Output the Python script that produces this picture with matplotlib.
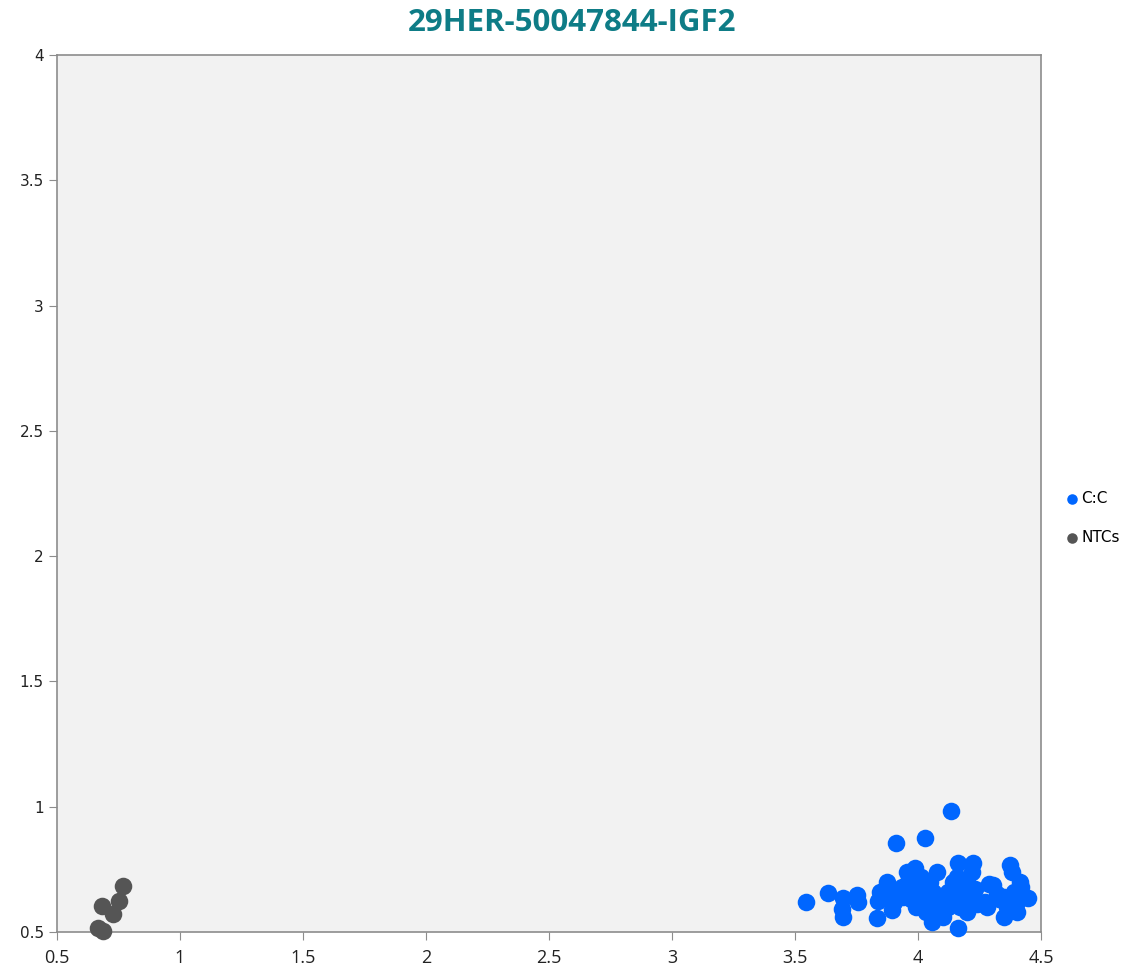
import matplotlib
matplotlib.use("Agg")
import matplotlib.pyplot as plt

title = "29HER-50047844-IGF2"

cc_x = [3.545, 3.633, 3.696, 3.690, 3.696, 3.753, 3.757, 3.832, 3.835, 3.846,
        3.860, 3.873, 3.880, 3.893, 3.900, 3.911, 3.920, 3.935, 3.954, 3.960,
        3.970, 3.988, 3.990, 4.000, 4.010, 4.020, 4.026, 4.030, 4.040, 4.050,
        4.056, 4.060, 4.076, 4.080, 4.090, 4.100, 4.110, 4.120, 4.135, 4.140,
        4.150, 4.164, 4.160, 4.164, 4.170, 4.180, 4.190, 4.200, 4.210, 4.225,
        4.220, 4.230, 4.240, 4.252, 4.270, 4.290, 4.306, 4.320, 4.330, 4.347,
        4.360, 4.374, 4.380, 4.390, 4.400, 4.415, 4.420, 4.448, 4.430,
        4.050, 4.120, 4.180, 3.980, 4.280, 4.350, 4.400, 4.200, 3.940, 4.000]
cc_y = [0.618, 0.657, 0.634, 0.590, 0.561, 0.648, 0.621, 0.554, 0.625, 0.661,
        0.640, 0.700, 0.670, 0.588, 0.620, 0.854, 0.650, 0.680, 0.741, 0.700,
        0.630, 0.754, 0.600, 0.680, 0.720, 0.650, 0.876, 0.580, 0.610, 0.700,
        0.541, 0.660, 0.741, 0.620, 0.590, 0.560, 0.640, 0.600, 0.984, 0.700,
        0.650, 0.774, 0.720, 0.515, 0.600, 0.680, 0.640, 0.700, 0.620, 0.777,
        0.740, 0.670, 0.610, 0.614, 0.620, 0.690, 0.687, 0.650, 0.630, 0.561,
        0.600, 0.767, 0.740, 0.660, 0.620, 0.700, 0.680, 0.634, 0.640,
        0.630, 0.660, 0.620, 0.660, 0.600, 0.640, 0.580, 0.580, 0.640, 0.620]

ntc_x = [0.667, 0.687, 0.683, 0.728, 0.752, 0.768]
ntc_y = [0.516, 0.504, 0.604, 0.572, 0.624, 0.684]

xticks = [0.5, 1, 1.5, 2, 2.5, 3, 3.5, 4, 4.5]
xtick_labels = ["0.5", "1", "1.5", "2", "2.5", "3", "3.5", "4", "4.5"]
yticks = [0.5, 1, 1.5, 2, 2.5, 3, 3.5, 4]
ytick_labels = ["0.5", "1", "1.5", "2", "2.5", "3", "3.5", "4"]

fig = plt.figure(figsize=(11.44, 9.68), dpi=100)
ax = fig.add_axes([0.0498, 0.0372, 0.8603, 0.906])
ax.set_facecolor("#F2F2F2")

ax.scatter(cc_x, cc_y, s=160, color="#0066FF", linewidths=0, label="C:C", clip_on=False, zorder=3)
ax.scatter(ntc_x, ntc_y, s=160, color="#555555", linewidths=0, label="NTCs", clip_on=False, zorder=3)

ax.set_xlim(0.5, 4.5)
ax.set_ylim(0.5, 4)
ax.set_xticks(xticks)
ax.set_xticklabels(xtick_labels)
ax.set_yticks(yticks)
ax.set_yticklabels(ytick_labels)
for sp in ax.spines.values():
    sp.set_color("#8C8C8C")
    sp.set_linewidth(1.2)
ax.tick_params(axis="both", direction="out", length=6, color="#8C8C8C", labelsize=11, labelcolor="#222222")
ax.tick_params(axis="x", pad=6)
for lab in ax.get_xticklabels():
    lab.set_family(["Open Sans", "DejaVu Sans"])
    lab.set_fontsize(13)

fig.suptitle(title, x=0.5, y=0.992, fontsize=22.5, fontweight="bold", color="#0E7C86",
             family=["Open Sans", "DejaVu Sans"], va="top")

leg = ax.legend(loc="center left", bbox_to_anchor=(1.01, 0.472), frameon=False,
                fontsize=11, markerscale=0.6, handletextpad=0.1, labelspacing=1.6,
                handlelength=1.0)

fig.savefig("out.png", dpi=100)
